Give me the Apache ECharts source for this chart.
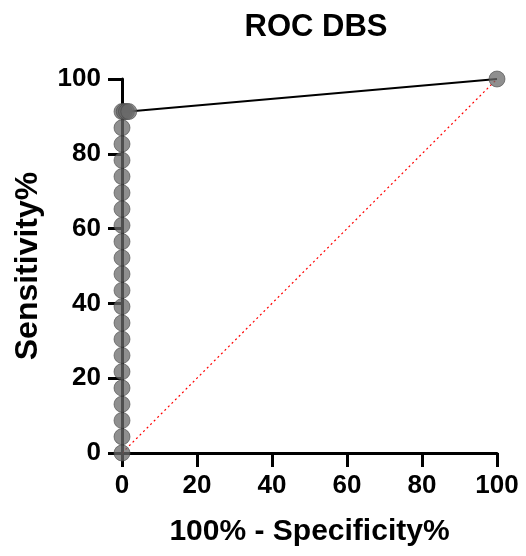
<!DOCTYPE html>
<html>
<head>
<meta charset="utf-8">
<script src="https://cdn.jsdelivr.net/npm/echarts@6/dist/echarts.min.js"></script>
<style>html,body{margin:0;padding:0;background:#fff;}#c{width:526px;height:556px;}</style>
</head>
<body>
<div id="c"></div>
<script>
var titleText = "ROC DBS";
var xName = "100% - Specificity%";
var yName = "Sensitivity%";
var xTicks = [0, 20, 40, 60, 80, 100];
var yTicks = [0, 20, 40, 60, 80, 100];
// ROC points: 100% - specificity (x) and sensitivity (y)
var fprValues = [0, 0, 0, 0, 0, 0, 0, 0, 0, 0, 0, 0, 0, 0, 0, 0, 0, 0, 0, 0, 0, 0, 0.6, 1.2, 1.8, 100];
var tprValues = [0, 4.35, 8.7, 13.04, 17.39, 21.74, 26.09, 30.43, 34.78, 39.13, 43.48, 47.83, 52.17, 56.52, 60.87, 65.22, 69.57, 73.91, 78.26, 82.61, 86.96, 91.3, 91.3, 91.3, 91.3, 100];
var refX = [0, 100];
var refY = [0, 100];

var rocData = fprValues.map(function (v, i) { return [v, tprValues[i]]; });
var refData = refX.map(function (v, i) { return [v, refY[i]]; });

var font = "'Liberation Sans', Arial, sans-serif";
var chart = echarts.init(document.getElementById('c'), null, {renderer: 'canvas'});
chart.setOption({
  animation: false,
  backgroundColor: '#fff',
  title: {
    text: titleText, left: 311, top: 7, textAlign: 'center',
    textStyle: {fontFamily: font, fontWeight: 'bold', fontSize: 31, color: '#000'}
  },
  grid: {left: 122, right: 29, top: 79, bottom: 103},
  xAxis: {
    type: 'value', min: 0, max: 100, interval: 20,
    name: xName, nameLocation: 'middle', nameGap: 64,
    nameTextStyle: {fontFamily: font, fontWeight: 'bold', fontSize: 30, color: '#000'},
    axisLine: {show: true, onZero: false, lineStyle: {color: '#000', width: 3}},
    axisTick: {show: true, length: 14, lineStyle: {color: '#000', width: 3}},
    axisLabel: {fontFamily: font, fontWeight: 'bold', fontSize: 26, color: '#000', margin: 20,
      formatter: function (v) { return xTicks.indexOf(v) >= 0 ? String(v) : ''; }},
    splitLine: {show: false}
  },
  yAxis: {
    type: 'value', min: 0, max: 100, interval: 20,
    name: yName, nameLocation: 'middle', nameGap: 78, nameRotate: 90,
    nameTextStyle: {fontFamily: font, fontWeight: 'bold', fontSize: 32, color: '#000'},
    axisLine: {show: true, onZero: false, lineStyle: {color: '#000', width: 3}},
    axisTick: {show: true, length: 14, lineStyle: {color: '#000', width: 3}},
    axisLabel: {fontFamily: font, fontWeight: 'bold', fontSize: 26, color: '#000', margin: 21,
      formatter: function (v) { return yTicks.indexOf(v) >= 0 ? String(v) : ''; }},
    splitLine: {show: false}
  },
  series: [
    {
      type: 'line', data: refData, showSymbol: false, symbol: 'none', clip: false,
      lineStyle: {color: '#ff0000', width: 1.2, type: [2, 3]}, z: 1
    },
    {
      type: 'line', data: rocData, clip: false,
      symbol: 'circle', symbolSize: 16, showAllSymbol: true,
      itemStyle: {color: 'rgba(105,105,105,0.75)', borderColor: 'rgba(70,70,70,0.6)', borderWidth: 1},
      lineStyle: {color: '#000', width: 2}, z: 3
    }
  ]
});
</script>
</body>
</html>
